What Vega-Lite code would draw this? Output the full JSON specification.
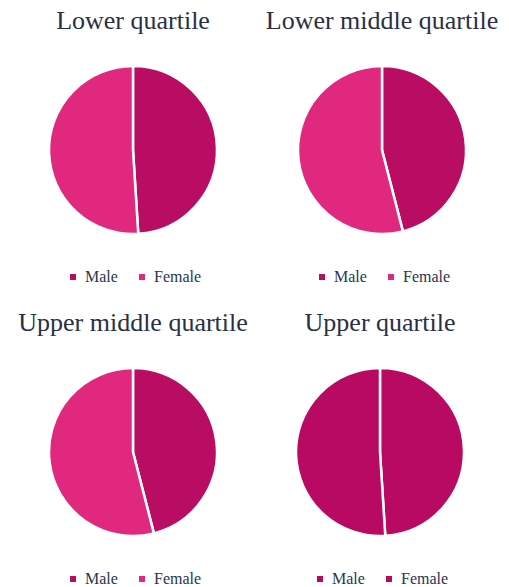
{
  "$schema": "https://vega.github.io/schema/vega-lite/v6.json",
  "padding": {"left": 18, "top": 8, "right": 5, "bottom": 0},
  "background": "white",
  "datasets": {
    "pay": [
      {"quartile": "Lower quartile", "sex": "Male", "share": 49},
      {"quartile": "Lower quartile", "sex": "Female", "share": 51},
      {"quartile": "Lower middle quartile", "sex": "Male", "share": 46},
      {"quartile": "Lower middle quartile", "sex": "Female", "share": 54},
      {"quartile": "Upper middle quartile", "sex": "Male", "share": 46},
      {"quartile": "Upper middle quartile", "sex": "Female", "share": 54},
      {"quartile": "Upper quartile", "sex": "Male", "share": 49},
      {"quartile": "Upper quartile", "sex": "Female", "share": 51}
    ]
  },
  "data": {"name": "pay"},
  "spacing": 25,
  "vconcat": [
    {
      "spacing": 17,
      "hconcat": [
        {
          "width": 230, "height": 200,
          "title": {"text": "Lower quartile"},
          "transform": [{"filter": "datum.quartile === 'Lower quartile'"}],
          "mark": {"type": "arc", "outerRadius": 84, "stroke": "white", "strokeWidth": 2.5},
          "encoding": {
            "theta": {"field": "share", "type": "quantitative", "stack": true},
            "order": {"field": "sex", "sort": "descending"},
            "color": {"field": "sex", "type": "nominal", "sort": ["Male", "Female"],
              "scale": {"domain": ["Male", "Female"], "range": ["#b80d62", "#e0287e"]}}
          }
        },
        {
          "width": 230, "height": 200,
          "title": {"text": "Lower middle quartile"},
          "transform": [{"filter": "datum.quartile === 'Lower middle quartile'"}],
          "mark": {"type": "arc", "outerRadius": 84, "stroke": "white", "strokeWidth": 2.5},
          "encoding": {
            "theta": {"field": "share", "type": "quantitative", "stack": true},
            "order": {"field": "sex", "sort": "descending"},
            "color": {"field": "sex", "type": "nominal", "sort": ["Male", "Female"],
              "scale": {"domain": ["Male", "Female"], "range": ["#b80d62", "#e0287e"]}}
          }
        }
      ],
      "resolve": {"scale": {"color": "independent"}, "legend": {"color": "independent"}}
    },
    {
      "spacing": 17,
      "hconcat": [
        {
          "width": 230, "height": 200,
          "title": {"text": "Upper middle quartile"},
          "transform": [{"filter": "datum.quartile === 'Upper middle quartile'"}],
          "mark": {"type": "arc", "outerRadius": 84, "stroke": "white", "strokeWidth": 2.5},
          "encoding": {
            "theta": {"field": "share", "type": "quantitative", "stack": true},
            "order": {"field": "sex", "sort": "descending"},
            "color": {"field": "sex", "type": "nominal", "sort": ["Male", "Female"],
              "scale": {"domain": ["Male", "Female"], "range": ["#b80d62", "#e0287e"]}}
          }
        },
        {
          "width": 230, "height": 200,
          "title": {"text": "Upper quartile"},
          "transform": [{"filter": "datum.quartile === 'Upper quartile'"}],
          "mark": {"type": "arc", "outerRadius": 84, "stroke": "white", "strokeWidth": 2.5},
          "encoding": {
            "theta": {"field": "share", "type": "quantitative", "stack": true},
            "order": {"field": "sex", "sort": "descending"},
            "color": {"field": "sex", "type": "nominal", "sort": ["Male", "Female"],
              "scale": {"domain": ["Male", "Female"], "range": ["#b80a62", "#b80a62"]}}
          }
        }
      ],
      "resolve": {"scale": {"color": "independent"}, "legend": {"color": "independent"}}
    }
  ],
  "resolve": {"scale": {"color": "independent"}, "legend": {"color": "independent"}},
  "config": {
    "view": {"stroke": null},
    "title": {"font": "Liberation Serif", "fontSize": 26, "fontWeight": "normal", "color": "#2a2f45", "offset": 16, "anchor": "middle"},
    "legend": {
      "orient": "bottom", "direction": "horizontal", "title": null,
      "layout": {"bottom": {"anchor": "middle"}},
      "symbolType": "square", "symbolSize": 36, "symbolStrokeWidth": 0,
      "labelFont": "Liberation Serif", "labelFontSize": 16, "labelColor": "#2a3550",
      "columnPadding": 16, "offset": 19
    }
  }
}
